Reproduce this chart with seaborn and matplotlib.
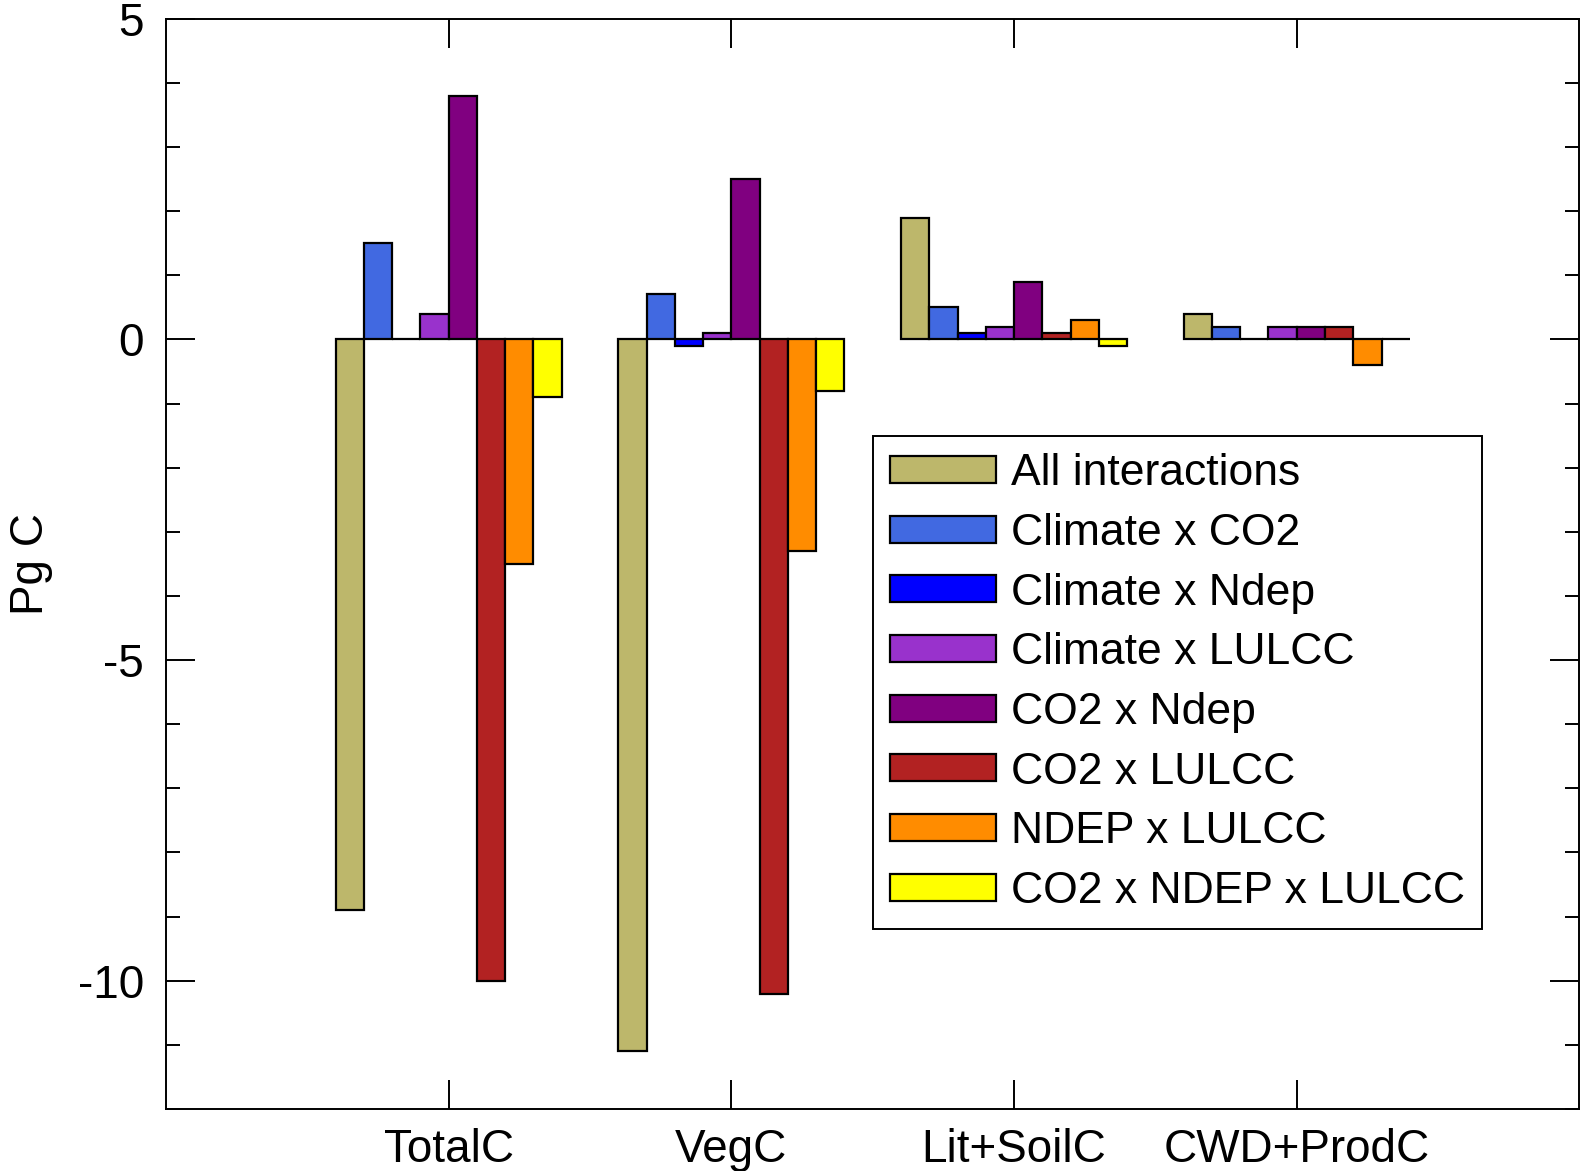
import matplotlib
matplotlib.use("Agg")
import matplotlib.pyplot as plt
import matplotlib.patches as mpatches
from matplotlib.ticker import MultipleLocator
import seaborn as sns
import pandas as pd

# Categories and interaction terms
pools = ["TotalC", "VegC", "Lit+SoilC", "CWD+ProdC"]
terms = ["All interactions", "Climate x CO2", "Climate x Ndep", "Climate x LULCC",
         "CO2 x Ndep", "CO2 x LULCC", "NDEP x LULCC", "CO2 x NDEP x LULCC"]
colors = ["#BDB76B", "#4169E1", "#0000FF", "#9932CC",
          "#800080", "#B22222", "#FF8C00", "#FFFF00"]

# Values (Pg C) per pool, in the order of terms
totalc = [-8.9, 1.5, 0.0, 0.4, 3.8, -10.0, -3.5, -0.9]
vegc = [-11.1, 0.7, -0.1, 0.1, 2.5, -10.2, -3.3, -0.8]
litsoilc = [1.9, 0.5, 0.1, 0.2, 0.9, 0.1, 0.3, -0.1]
cwdprodc = [0.4, 0.2, 0.0, 0.2, 0.2, 0.2, -0.4, 0.0]

rows = []
for pool, vals in zip(pools, [totalc, vegc, litsoilc, cwdprodc]):
    for term, v in zip(terms, vals):
        rows.append({"pool": pool, "term": term, "value": v})
df = pd.DataFrame(rows)

sns.set_style("ticks")
plt.rcParams["font.family"] = ["Liberation Sans", "DejaVu Sans"]
plt.rcParams["axes.unicode_minus"] = False
plt.rcParams["text.color"] = "black"
plt.rcParams["axes.labelcolor"] = "black"
plt.rcParams["xtick.color"] = "black"
plt.rcParams["ytick.color"] = "black"

fig = plt.figure(figsize=(15.81, 11.71), dpi=100)
ax = fig.add_axes([0.105, 0.053, 0.894, 0.931])

sns.barplot(data=df, x="pool", y="value", hue="term", hue_order=terms,
            order=pools, palette=colors, width=0.8, gap=0, errorbar=None,
            edgecolor="black", linewidth=1.6, saturation=1, legend=False, ax=ax)

ax.set_xlim(-1, 4)
ax.set_ylim(-12, 5)
ax.yaxis.set_major_locator(MultipleLocator(5))
ax.yaxis.set_minor_locator(MultipleLocator(1))
ax.tick_params(axis="y", which="major", direction="in", length=21, width=1.4,
               left=True, right=True, labelsize=33, pad=16)
ax.tick_params(axis="y", which="minor", direction="in", length=10, width=1.4,
               left=True, right=True)
ax.tick_params(axis="x", which="major", direction="in", length=21, width=1.4,
               bottom=True, top=True, labelsize=33, pad=14)
for s in ax.spines.values():
    s.set_linewidth(1.4)
    s.set_color("black")

ax.set_xlabel("")
ax.set_ylabel("Pg C", fontsize=33, labelpad=18)

handles = [mpatches.Patch(facecolor=c, edgecolor="black", linewidth=1.6, label=t)
           for c, t in zip(colors, terms)]
leg = ax.legend(handles=handles, loc="upper left", bbox_to_anchor=(0.5, 0.617),
                fontsize=32, frameon=True, fancybox=False, framealpha=1,
                edgecolor="black", handlelength=2.4, handleheight=0.55,
                labelspacing=0.42, handletextpad=0.33, borderpad=0.38,
                borderaxespad=0)
leg.get_frame().set_linewidth(1.4)

fig.savefig("out.png", dpi=100)
